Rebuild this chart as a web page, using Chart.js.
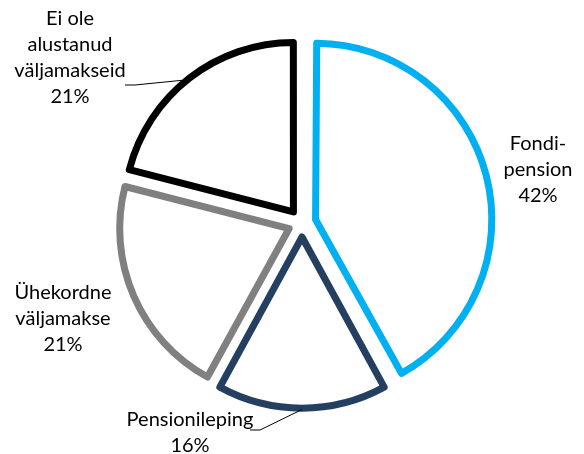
<!DOCTYPE html>
<html><head><meta charset="utf-8">
<script src="https://cdn.jsdelivr.net/npm/chart.js@4/dist/chart.umd.min.js"></script>
<style>html,body{margin:0;padding:0;background:#fff}#wrap{width:584px;height:454px}</style>
</head><body><div id="wrap"><canvas id="c" width="584" height="454"></canvas></div>
<script>
// ---- data ----
const categories = ['Fondipension', 'Pensionileping', 'Ühekordne väljamakse', 'Ei ole alustanud väljamakseid'];
const labelLines = [['Fondi-', 'pension'], ['Pensionileping'], ['Ühekordne', 'väljamakse'], ['Ei ole', 'alustanud', 'väljamakseid']];
const shares = [42, 16, 21, 21];
const percentLabels = ['42%', '16%', '21%', '21%'];

// ---- styles ----
const borderColors = ['#00B0F0', '#243F60', '#808080', '#000000'];

const labelPlugin = {
  id: 'sliceLabels',
  afterDatasetsDraw(chart, args, opts) {
    const meta = chart.getDatasetMeta(0);
    const ctx = chart.ctx;
    const cx = (chart.chartArea.left + chart.chartArea.right) / 2;
    const cy = (chart.chartArea.top + chart.chartArea.bottom) / 2;
    meta.data.forEach((arc, i) => {
      const lay = opts.layout[i];
      const lines = labelLines[i].concat([percentLabels[i]]);
      const tx = cx + lay.dx, ty = cy + lay.dy;
      ctx.save();
      ctx.font = opts.font;
      ctx.fillStyle = '#000';
      ctx.textAlign = 'center';
      ctx.textBaseline = 'middle';
      const lh = opts.lineHeight;
      const y0 = ty - (lines.length - 1) * lh / 2;
      lines.forEach((t, k) => ctx.fillText(t, tx, y0 + k * lh));
      if (lay.leader) {
        const p = arc.getProps(['x', 'y', 'startAngle', 'endAngle', 'outerRadius'], true);
        const mid = (p.startAngle + p.endAngle) / 2 + (lay.angleShift || 0);
        const off = arc.options.offset / 4;
        const r = p.outerRadius + arc.options.borderWidth / 2;
        const ax = p.x + Math.cos(mid) * (off + r), ay = p.y + Math.sin(mid) * (off + r);
        ctx.strokeStyle = '#000';
        ctx.lineWidth = 1;
        ctx.beginPath();
        ctx.moveTo(ax, ay);
        ctx.lineTo(cx + lay.leader[0][0], cy + lay.leader[0][1]);
        ctx.lineTo(cx + lay.leader[1][0], cy + lay.leader[1][1]);
        ctx.stroke();
      }
      ctx.restore();
    });
  }
};

new Chart(document.getElementById('c'), {
  type: 'pie',
  data: {
    labels: categories,
    datasets: [{
      data: shares,
      backgroundColor: '#ffffff',
      borderColor: borderColors,
      borderWidth: 7,
      borderAlign: 'center',
      borderJoinStyle: 'round',
      offset: 56
    }]
  },
  options: {
    responsive: false,
    animation: false,
    events: [],
    radius: 169,
    layout: { padding: { left: 20, right: 0, top: 0, bottom: 8 } },
    plugins: {
      legend: { display: false },
      tooltip: { enabled: false },
      sliceLabels: {
        font: '20px Lato',
        lineHeight: 26,
        layout: [
          { dx: 236, dy: -53 },
          { dx: -112, dy: 210, leader: [[-42, 207], [-52, 207]] },
          { dx: -239, dy: 96 },
          { dx: -232, dy: -165, leader: [[-167, -138], [-177, -138]], angleShift: -0.04 }
        ]
      }
    }
  },
  plugins: [labelPlugin]
});
</script>
</body></html>
